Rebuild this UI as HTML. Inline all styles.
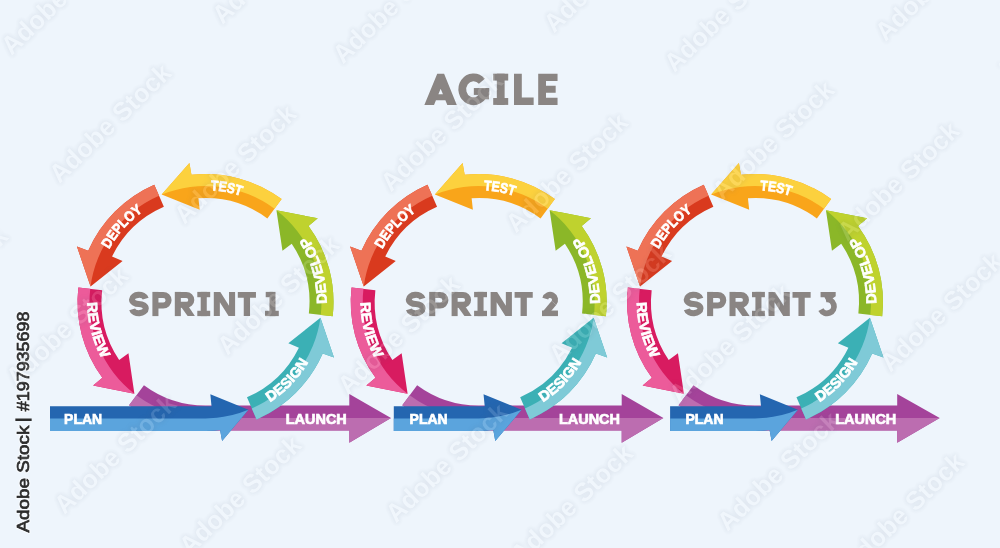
<!DOCTYPE html>
<html><head><meta charset="utf-8"><title>Agile</title>
<style>html,body{margin:0;padding:0;background:#eef5fc;}svg{display:block;}text{font-family:"Liberation Sans",sans-serif;font-weight:bold;}.side text{font-weight:normal;}.lbl{font-size:14.2px;fill:#fff;stroke:#fff;stroke-width:0.7px;letter-spacing:0px;}.big{fill:#8a8583;stroke:#8a8583;stroke-width:1.1px;stroke-linejoin:miter;}</style></head><body>
<svg width="1000" height="548" viewBox="0 0 1000 548">
<rect width="1000" height="548" fill="#eef5fc"/>
<g opacity="0.999">
<defs>
<path id="p_test" d="M168.15,196.52 A111.90,111.90 0 0 1 278.17,216.91" fill="none"/>
<path id="p_deploy" d="M98.00,279.15 A109.90,109.90 0 0 1 171.54,197.48" fill="none"/>
<path id="p_review" d="M91.75,270.24 A118.10,118.10 0 0 0 121.12,384.63" fill="none"/>
<path id="p_design" d="M238.73,416.37 A119.10,119.10 0 0 0 321.16,330.41" fill="none"/>
<path id="p_develop" d="M323.00,331.30 A121.10,121.10 0 0 0 289.62,214.89" fill="none"/>
<g id="labels">
<text class="lbl" text-anchor="middle"><textPath href="#p_test" startOffset="50%" textLength="31" lengthAdjust="spacingAndGlyphs">TEST</textPath></text>
<text class="lbl" text-anchor="middle"><textPath href="#p_deploy" startOffset="50%" textLength="51" lengthAdjust="spacingAndGlyphs">DEPLOY</textPath></text>
<text class="lbl" text-anchor="middle"><textPath href="#p_review" startOffset="50%" textLength="59" lengthAdjust="spacingAndGlyphs">REVIEW</textPath></text>
<text class="lbl" text-anchor="middle"><textPath href="#p_design" startOffset="50%" textLength="56" lengthAdjust="spacingAndGlyphs">DESIGN</textPath></text>
<text class="lbl" text-anchor="middle"><textPath href="#p_develop" startOffset="50%" textLength="71" lengthAdjust="spacingAndGlyphs">DEVELOP</textPath></text>
</g>
<g id="s1">
<path d="M281.64,199.11 A128.00,128.00 0 0 0 191.45,174.77 L189.41,162.93 L161.67,194.60 L199.69,209.68 L198.43,198.24 A104.00,104.00 0 0 1 267.36,218.40 Z" fill="#f9a51a"/>
<path d="M281.64,199.11 A128.00,128.00 0 0 0 191.45,174.77 L189.41,162.93 L161.67,194.60 A116.00,116.00 0 0 1 274.50,208.75 Z" fill="#fcd13e"/>
<path d="M154.26,184.71 A128.00,128.00 0 0 0 88.21,250.76 L76.92,246.62 L90.55,286.46 L122.58,261.02 L112.03,256.41 A104.00,104.00 0 0 1 163.86,206.70 Z" fill="#d93a1e"/>
<path d="M154.26,184.71 A128.00,128.00 0 0 0 88.21,250.76 L76.92,246.62 L90.55,286.46 A116.00,116.00 0 0 1 159.06,195.70 Z" fill="#ee7256"/>
<path d="M78.32,287.51 A128.00,128.00 0 0 0 102.34,377.78 L93.11,385.47 L134.40,393.66 L128.45,353.19 L119.18,360.01 A104.00,104.00 0 0 1 102.17,290.23 Z" fill="#d81b60"/>
<path d="M78.32,287.51 A128.00,128.00 0 0 0 102.34,377.78 L93.11,385.47 L134.40,393.66 A116.00,116.00 0 0 1 90.25,288.87 Z" fill="#ec5b9a"/>
<path d="M129.07,405.30 A128.50,128.50 0 0 0 205.50,430.50 L349.30,430.50 L349.30,442.80 L391.00,418.00 L349.30,394.00 L349.30,405.50 L205.50,405.50 A103.50,103.50 0 0 1 143.94,385.20 Z" fill="#a4439a"/>
<path d="M129.07,405.30 A128.50,128.50 0 0 0 205.50,430.50 L349.30,430.50 L349.30,442.80 L391.00,418.00 L205.50,418.00 A116.00,116.00 0 0 1 136.50,395.25 Z" fill="#bc6db0"/>
<path d="M50.00,406.20 L205.50,406.20 A104.50,104.50 0 0 0 211.52,406.33 L210.34,394.37 L248.39,409.78 L222.08,441.02 L220.08,429.97 A128.80,128.80 0 0 1 205.50,431.00 L50.00,431.00 Z" fill="#2466b0"/>
<path d="M50.00,418.50 L205.50,418.50 A116.50,116.50 0 0 0 248.39,409.78 L222.08,441.02 L220.08,429.97 A128.80,128.80 0 0 1 205.50,431.00 L50.00,431.00 Z" fill="#5ba4dd"/>
<path d="M256.54,419.38 A128.00,128.00 0 0 0 322.70,353.45 L333.99,357.60 L320.43,317.74 L288.35,343.13 L298.89,347.75 A104.00,104.00 0 0 1 246.97,397.37 Z" fill="#3bb0b5"/>
<path d="M256.54,419.38 A128.00,128.00 0 0 0 322.70,353.45 L333.99,357.60 L320.43,317.74 A116.00,116.00 0 0 1 251.75,408.38 Z" fill="#7fcad7"/>
<path d="M332.70,316.27 A128.00,128.00 0 0 0 308.53,226.04 L317.75,218.33 L276.44,210.22 L282.46,250.68 L291.72,243.84 A104.00,104.00 0 0 1 308.85,313.59 Z" fill="#8bb728"/>
<path d="M332.70,316.27 A128.00,128.00 0 0 0 308.53,226.04 L317.75,218.33 L276.44,210.22 A116.00,116.00 0 0 1 320.78,314.93 Z" fill="#bfd22e"/>
</g>
<g id="s2">
<path d="M281.64,199.11 A128.00,128.00 0 0 0 191.45,174.77 L189.41,162.93 L161.67,194.60 L199.69,209.68 L198.43,198.24 A104.00,104.00 0 0 1 267.36,218.40 Z" fill="#f9a51a"/>
<path d="M281.64,199.11 A128.00,128.00 0 0 0 191.45,174.77 L189.41,162.93 L161.67,194.60 A116.00,116.00 0 0 1 274.50,208.75 Z" fill="#fcd13e"/>
<path d="M154.26,184.71 A128.00,128.00 0 0 0 88.21,250.76 L76.92,246.62 L90.55,286.46 L122.58,261.02 L112.03,256.41 A104.00,104.00 0 0 1 163.86,206.70 Z" fill="#d93a1e"/>
<path d="M154.26,184.71 A128.00,128.00 0 0 0 88.21,250.76 L76.92,246.62 L90.55,286.46 A116.00,116.00 0 0 1 159.06,195.70 Z" fill="#ee7256"/>
<path d="M78.32,287.51 A128.00,128.00 0 0 0 102.34,377.78 L93.11,385.47 L134.40,393.66 L128.45,353.19 L119.18,360.01 A104.00,104.00 0 0 1 102.17,290.23 Z" fill="#d81b60"/>
<path d="M78.32,287.51 A128.00,128.00 0 0 0 102.34,377.78 L93.11,385.47 L134.40,393.66 A116.00,116.00 0 0 1 90.25,288.87 Z" fill="#ec5b9a"/>
<path d="M129.07,405.30 A128.50,128.50 0 0 0 205.50,430.50 L348.50,430.50 L348.50,442.80 L390.20,418.00 L348.50,394.00 L348.50,405.50 L205.50,405.50 A103.50,103.50 0 0 1 143.94,385.20 Z" fill="#a4439a"/>
<path d="M129.07,405.30 A128.50,128.50 0 0 0 205.50,430.50 L348.50,430.50 L348.50,442.80 L390.20,418.00 L205.50,418.00 A116.00,116.00 0 0 1 136.50,395.25 Z" fill="#bc6db0"/>
<path d="M120.60,406.20 L205.50,406.20 A104.50,104.50 0 0 0 211.52,406.33 L210.34,394.37 L248.39,409.78 L222.08,441.02 L220.08,429.97 A128.80,128.80 0 0 1 205.50,431.00 L120.60,431.00 Z" fill="#2466b0"/>
<path d="M120.60,418.50 L205.50,418.50 A116.50,116.50 0 0 0 248.39,409.78 L222.08,441.02 L220.08,429.97 A128.80,128.80 0 0 1 205.50,431.00 L120.60,431.00 Z" fill="#5ba4dd"/>
<path d="M256.54,419.38 A128.00,128.00 0 0 0 322.70,353.45 L333.99,357.60 L320.43,317.74 L288.35,343.13 L298.89,347.75 A104.00,104.00 0 0 1 246.97,397.37 Z" fill="#3bb0b5"/>
<path d="M256.54,419.38 A128.00,128.00 0 0 0 322.70,353.45 L333.99,357.60 L320.43,317.74 A116.00,116.00 0 0 1 251.75,408.38 Z" fill="#7fcad7"/>
<path d="M332.70,316.27 A128.00,128.00 0 0 0 308.53,226.04 L317.75,218.33 L276.44,210.22 L282.46,250.68 L291.72,243.84 A104.00,104.00 0 0 1 308.85,313.59 Z" fill="#8bb728"/>
<path d="M332.70,316.27 A128.00,128.00 0 0 0 308.53,226.04 L317.75,218.33 L276.44,210.22 A116.00,116.00 0 0 1 320.78,314.93 Z" fill="#bfd22e"/>
</g>
<g id="s3">
<path d="M281.64,199.11 A128.00,128.00 0 0 0 191.45,174.77 L189.41,162.93 L161.67,194.60 L199.69,209.68 L198.43,198.24 A104.00,104.00 0 0 1 267.36,218.40 Z" fill="#f9a51a"/>
<path d="M281.64,199.11 A128.00,128.00 0 0 0 191.45,174.77 L189.41,162.93 L161.67,194.60 A116.00,116.00 0 0 1 274.50,208.75 Z" fill="#fcd13e"/>
<path d="M154.26,184.71 A128.00,128.00 0 0 0 88.21,250.76 L76.92,246.62 L90.55,286.46 L122.58,261.02 L112.03,256.41 A104.00,104.00 0 0 1 163.86,206.70 Z" fill="#d93a1e"/>
<path d="M154.26,184.71 A128.00,128.00 0 0 0 88.21,250.76 L76.92,246.62 L90.55,286.46 A116.00,116.00 0 0 1 159.06,195.70 Z" fill="#ee7256"/>
<path d="M78.32,287.51 A128.00,128.00 0 0 0 102.34,377.78 L93.11,385.47 L134.40,393.66 L128.45,353.19 L119.18,360.01 A104.00,104.00 0 0 1 102.17,290.23 Z" fill="#d81b60"/>
<path d="M78.32,287.51 A128.00,128.00 0 0 0 102.34,377.78 L93.11,385.47 L134.40,393.66 A116.00,116.00 0 0 1 90.25,288.87 Z" fill="#ec5b9a"/>
<path d="M129.07,405.30 A128.50,128.50 0 0 0 205.50,430.50 L347.70,430.50 L347.70,442.80 L390.20,418.00 L347.70,394.00 L347.70,405.50 L205.50,405.50 A103.50,103.50 0 0 1 143.94,385.20 Z" fill="#a4439a"/>
<path d="M129.07,405.30 A128.50,128.50 0 0 0 205.50,430.50 L347.70,430.50 L347.70,442.80 L390.20,418.00 L205.50,418.00 A116.00,116.00 0 0 1 136.50,395.25 Z" fill="#bc6db0"/>
<path d="M120.60,406.20 L205.50,406.20 A104.50,104.50 0 0 0 211.52,406.33 L210.34,394.37 L248.39,409.78 L222.08,441.02 L220.08,429.97 A128.80,128.80 0 0 1 205.50,431.00 L120.60,431.00 Z" fill="#2466b0"/>
<path d="M120.60,418.50 L205.50,418.50 A116.50,116.50 0 0 0 248.39,409.78 L222.08,441.02 L220.08,429.97 A128.80,128.80 0 0 1 205.50,431.00 L120.60,431.00 Z" fill="#5ba4dd"/>
<path d="M256.54,419.38 A128.00,128.00 0 0 0 322.70,353.45 L333.99,357.60 L320.43,317.74 L288.35,343.13 L298.89,347.75 A104.00,104.00 0 0 1 246.97,397.37 Z" fill="#3bb0b5"/>
<path d="M256.54,419.38 A128.00,128.00 0 0 0 322.70,353.45 L333.99,357.60 L320.43,317.74 A116.00,116.00 0 0 1 251.75,408.38 Z" fill="#7fcad7"/>
<path d="M332.70,316.27 A128.00,128.00 0 0 0 308.53,226.04 L317.75,218.33 L276.44,210.22 L282.46,250.68 L291.72,243.84 A104.00,104.00 0 0 1 308.85,313.59 Z" fill="#8bb728"/>
<path d="M332.70,316.27 A128.00,128.00 0 0 0 308.53,226.04 L317.75,218.33 L276.44,210.22 A116.00,116.00 0 0 1 320.78,314.93 Z" fill="#bfd22e"/>
</g>
</defs>
<use href="#s1"/>
<use href="#s2" x="273.2"/>
<use href="#s3" x="549.5"/>
<use href="#labels" x="0.0"/>
<use href="#labels" x="273.2"/>
<use href="#labels" x="549.5"/>
<text class="lbl" style="font-size:14.6px" x="64.1" y="424.0" textLength="38" lengthAdjust="spacingAndGlyphs">PLAN</text>
<text class="lbl" style="font-size:14.6px" x="285.8" y="423.5" textLength="61" lengthAdjust="spacingAndGlyphs">LAUNCH</text>
<text class="lbl" style="font-size:14.6px" x="409.6" y="424.0" textLength="38" lengthAdjust="spacingAndGlyphs">PLAN</text>
<text class="lbl" style="font-size:14.6px" x="559.0" y="423.5" textLength="61" lengthAdjust="spacingAndGlyphs">LAUNCH</text>
<text class="lbl" style="font-size:14.6px" x="685.5" y="424.0" textLength="38" lengthAdjust="spacingAndGlyphs">PLAN</text>
<text class="lbl" style="font-size:14.6px" x="835.3" y="423.5" textLength="61" lengthAdjust="spacingAndGlyphs">LAUNCH</text>
<g fill="#8a8583" stroke="#8a8583" stroke-width="0">
<g transform="translate(129.00,291.90) scale(0.2420)"><path d="M68.87,27.82 A28.40,18.90 0 0 0 12.50,31.10 A28.40,18.90 0 0 0 40.90,50.00 A28.40,18.90 0 0 1 69.30,68.90 A28.40,18.90 0 0 1 12.93,72.18" fill="none" stroke-width="25"/></g>
<g transform="translate(152.40,291.90) scale(0.2420)"><rect x="0" y="0" width="25" height="100"/><path d="M12,12.5 H44.80 A22.00,22.00 0 0 1 44.80,56.50 H12" fill="none" stroke-width="25"/></g>
<g transform="translate(174.80,291.90) scale(0.2420)"><rect x="0" y="0" width="25" height="100"/><path d="M12,12.5 H47.50 A20.50,20.50 0 0 1 47.50,53.50 H12" fill="none" stroke-width="25"/><path d="M24,59.5 H56 L83,100 H53 Z"/></g>
<g transform="translate(197.30,291.90) scale(0.2420)"><rect x="14.1" y="0" width="25" height="100"/><rect x="0" y="0" width="53.3" height="22"/><rect x="0" y="78" width="53.3" height="22"/></g>
<g transform="translate(213.80,291.90) scale(0.2420)"><path d="M0,0 H27 L63,57 V0 H88 V100 H61 L25,43 V100 H0Z"/></g>
<g transform="translate(237.80,291.90) scale(0.2420)"><path d="M0,0H75 V24 H50.6 V100 H24.6 V24 H0Z"/></g>
<g transform="translate(265.00,291.90) scale(0.2420)"><rect x="18.4" y="0" width="25" height="100"/><rect x="3" y="0" width="28.9" height="22"/><rect x="0" y="78" width="57" height="22"/></g>
<g transform="translate(405.80,291.90) scale(0.2420)"><path d="M68.87,27.82 A28.40,18.90 0 0 0 12.50,31.10 A28.40,18.90 0 0 0 40.90,50.00 A28.40,18.90 0 0 1 69.30,68.90 A28.40,18.90 0 0 1 12.93,72.18" fill="none" stroke-width="25"/></g>
<g transform="translate(429.20,291.90) scale(0.2420)"><rect x="0" y="0" width="25" height="100"/><path d="M12,12.5 H44.80 A22.00,22.00 0 0 1 44.80,56.50 H12" fill="none" stroke-width="25"/></g>
<g transform="translate(451.60,291.90) scale(0.2420)"><rect x="0" y="0" width="25" height="100"/><path d="M12,12.5 H47.50 A20.50,20.50 0 0 1 47.50,53.50 H12" fill="none" stroke-width="25"/><path d="M24,59.5 H56 L83,100 H53 Z"/></g>
<g transform="translate(474.10,291.90) scale(0.2420)"><rect x="14.1" y="0" width="25" height="100"/><rect x="0" y="0" width="53.3" height="22"/><rect x="0" y="78" width="53.3" height="22"/></g>
<g transform="translate(490.60,291.90) scale(0.2420)"><path d="M0,0 H27 L63,57 V0 H88 V100 H61 L25,43 V100 H0Z"/></g>
<g transform="translate(514.60,291.90) scale(0.2420)"><path d="M0,0H75 V24 H50.6 V100 H24.6 V24 H0Z"/></g>
<g transform="translate(542.00,291.90) scale(0.2420)"><path d="M13.70,27.66 A20.45,20.45 0 1 1 49.12,46.10" fill="none" stroke-width="25"/><path d="M39.54,38.06 L58.69,54.13 L20.20,100 L0,100 L0,85.18 Z"/><rect x="0" y="77" width="66" height="23"/></g>
<g transform="translate(683.70,291.90) scale(0.2420)"><path d="M68.87,27.82 A28.40,18.90 0 0 0 12.50,31.10 A28.40,18.90 0 0 0 40.90,50.00 A28.40,18.90 0 0 1 69.30,68.90 A28.40,18.90 0 0 1 12.93,72.18" fill="none" stroke-width="25"/></g>
<g transform="translate(707.10,291.90) scale(0.2420)"><rect x="0" y="0" width="25" height="100"/><path d="M12,12.5 H44.80 A22.00,22.00 0 0 1 44.80,56.50 H12" fill="none" stroke-width="25"/></g>
<g transform="translate(729.50,291.90) scale(0.2420)"><rect x="0" y="0" width="25" height="100"/><path d="M12,12.5 H47.50 A20.50,20.50 0 0 1 47.50,53.50 H12" fill="none" stroke-width="25"/><path d="M24,59.5 H56 L83,100 H53 Z"/></g>
<g transform="translate(752.00,291.90) scale(0.2420)"><rect x="14.1" y="0" width="25" height="100"/><rect x="0" y="0" width="53.3" height="22"/><rect x="0" y="78" width="53.3" height="22"/></g>
<g transform="translate(768.50,291.90) scale(0.2420)"><path d="M0,0 H27 L63,57 V0 H88 V100 H61 L25,43 V100 H0Z"/></g>
<g transform="translate(792.50,291.90) scale(0.2420)"><path d="M0,0H75 V24 H50.6 V100 H24.6 V24 H0Z"/></g>
<g transform="translate(819.60,291.90) scale(0.2420)"><path d="M4.0,0 H66.5 V18.0 L32.6,41.3 L19.0,21.5 L18.3,22 H4.0 Z"/><path d="M25.76,31.44 A28.75,28.75 0 1 1 5.37,73.25" fill="none" stroke-width="24"/></g>
<g transform="translate(424.35,73.70) scale(0.3120)"><path fill-rule="evenodd" d="M0,100 L41.3,0 H63.3 L104,100 H73.6 L67.4,85.0 H37.2 L31.0,100 Z M45.0,66.0 L52.3,48.4 L59.6,66.0 Z"/></g>
<g transform="translate(458.40,73.70) scale(0.3120)"><path d="M75.25,24.44 A36.00,38.20 0 1 0 83.71,57.94" fill="none" stroke-width="25"/><rect x="49.5" y="46" width="49.5" height="22"/><rect x="73.0" y="46" width="25" height="36"/></g>
<g transform="translate(493.20,73.70) scale(0.3120)"><rect x="11.6" y="0" width="25" height="100"/><rect x="0" y="0" width="48.1" height="22"/><rect x="0" y="78" width="48.1" height="22"/></g>
<g transform="translate(514.00,73.70) scale(0.3120)"><path d="M0,0H25 V76 H63 V100 H0Z"/></g>
<g transform="translate(538.20,73.70) scale(0.3120)"><path d="M0,0H62 V23 H25 V39 H56 V61 H25 V77 H62 V100 H0Z"/></g>
</g>
<g transform="translate(28.8,532.6) rotate(-90)" style="font-size:17.4px;font-weight:normal;fill:#fff;stroke:#fff;stroke-width:3px;stroke-linejoin:round;opacity:0.55" class="side"><text x="0" y="0" textLength="107" lengthAdjust="spacingAndGlyphs">Adobe Stock</text><text x="110.6" y="-0.5" style="stroke-width:1.3px">|</text><text x="121.4" y="0" textLength="99.6" lengthAdjust="spacingAndGlyphs">#197935698</text></g>
<g transform="translate(28.8,532.6) rotate(-90)" style="font-size:17.4px;font-weight:normal;fill:#2c2c2c;stroke:#2c2c2c;stroke-width:0.7px" class="side"><text x="0" y="0" textLength="107" lengthAdjust="spacingAndGlyphs">Adobe Stock</text><text x="110.6" y="-0.5" style="stroke-width:1.3px">|</text><text x="121.4" y="0" textLength="99.6" lengthAdjust="spacingAndGlyphs">#197935698</text></g>
<defs><filter id="wm" x="0" y="0" width="1000" height="548" filterUnits="userSpaceOnUse" color-interpolation-filters="sRGB"><feMorphology in="SourceAlpha" operator="dilate" radius="1" result="d"/><feGaussianBlur in="d" stdDeviation="2.2" result="b"/><feComposite in="b" in2="SourceAlpha" operator="out" result="halo"/><feFlood flood-color="#445068" flood-opacity="0.08"/><feComposite in2="halo" operator="in" result="hcol"/><feFlood flood-color="#ffffff" flood-opacity="0.14"/><feComposite in2="SourceAlpha" operator="in" result="wcol"/><feMerge><feMergeNode in="hcol"/><feMergeNode in="wcol"/></feMerge></filter></defs>
<g style="font-size:26px;letter-spacing:0.2px" text-anchor="middle" filter="url(#wm)" fill="#000">
<text transform="translate(110.0,123.0) rotate(-44)" x="0" y="9" textLength="158" lengthAdjust="spacingAndGlyphs">Adobe Stock</text>
<text transform="translate(115.0,454.0) rotate(-44)" x="0" y="9" textLength="158" lengthAdjust="spacingAndGlyphs">Adobe Stock</text>
<text transform="translate(441.5,131.5) rotate(-44)" x="0" y="9" textLength="158" lengthAdjust="spacingAndGlyphs">Adobe Stock</text>
<text transform="translate(446.5,462.5) rotate(-44)" x="0" y="9" textLength="158" lengthAdjust="spacingAndGlyphs">Adobe Stock</text>
<text transform="translate(773.0,140.0) rotate(-44)" x="0" y="9" textLength="158" lengthAdjust="spacingAndGlyphs">Adobe Stock</text>
<text transform="translate(778.0,471.0) rotate(-44)" x="0" y="9" textLength="158" lengthAdjust="spacingAndGlyphs">Adobe Stock</text>
<text transform="translate(235.0,164.0) rotate(-44)" x="0" y="9" textLength="158" lengthAdjust="spacingAndGlyphs">Adobe Stock</text>
<text transform="translate(240.0,495.0) rotate(-44)" x="0" y="9" textLength="158" lengthAdjust="spacingAndGlyphs">Adobe Stock</text>
<text transform="translate(566.5,172.5) rotate(-44)" x="0" y="9" textLength="158" lengthAdjust="spacingAndGlyphs">Adobe Stock</text>
<text transform="translate(571.5,503.5) rotate(-44)" x="0" y="9" textLength="158" lengthAdjust="spacingAndGlyphs">Adobe Stock</text>
<text transform="translate(898.0,181.0) rotate(-44)" x="0" y="9" textLength="158" lengthAdjust="spacingAndGlyphs">Adobe Stock</text>
<text transform="translate(903.0,512.0) rotate(-44)" x="0" y="9" textLength="158" lengthAdjust="spacingAndGlyphs">Adobe Stock</text>
<text transform="translate(-58.5,-44.5) rotate(-44)" x="0" y="9" textLength="158" lengthAdjust="spacingAndGlyphs">Adobe Stock</text>
<text transform="translate(-53.5,286.5) rotate(-44)" x="0" y="9" textLength="158" lengthAdjust="spacingAndGlyphs">Adobe Stock</text>
<text transform="translate(-48.5,617.5) rotate(-44)" x="0" y="9" textLength="158" lengthAdjust="spacingAndGlyphs">Adobe Stock</text>
<text transform="translate(273.0,-36.0) rotate(-44)" x="0" y="9" textLength="158" lengthAdjust="spacingAndGlyphs">Adobe Stock</text>
<text transform="translate(278.0,295.0) rotate(-44)" x="0" y="9" textLength="158" lengthAdjust="spacingAndGlyphs">Adobe Stock</text>
<text transform="translate(283.0,626.0) rotate(-44)" x="0" y="9" textLength="158" lengthAdjust="spacingAndGlyphs">Adobe Stock</text>
<text transform="translate(604.5,-27.5) rotate(-44)" x="0" y="9" textLength="158" lengthAdjust="spacingAndGlyphs">Adobe Stock</text>
<text transform="translate(609.5,303.5) rotate(-44)" x="0" y="9" textLength="158" lengthAdjust="spacingAndGlyphs">Adobe Stock</text>
<text transform="translate(614.5,634.5) rotate(-44)" x="0" y="9" textLength="158" lengthAdjust="spacingAndGlyphs">Adobe Stock</text>
<text transform="translate(936.0,-19.0) rotate(-44)" x="0" y="9" textLength="158" lengthAdjust="spacingAndGlyphs">Adobe Stock</text>
<text transform="translate(941.0,312.0) rotate(-44)" x="0" y="9" textLength="158" lengthAdjust="spacingAndGlyphs">Adobe Stock</text>
<text transform="translate(62.0,-5.0) rotate(-44)" x="0" y="9" textLength="158" lengthAdjust="spacingAndGlyphs">Adobe Stock</text>
<text transform="translate(67.0,326.0) rotate(-44)" x="0" y="9" textLength="158" lengthAdjust="spacingAndGlyphs">Adobe Stock</text>
<text transform="translate(393.5,3.5) rotate(-44)" x="0" y="9" textLength="158" lengthAdjust="spacingAndGlyphs">Adobe Stock</text>
<text transform="translate(398.5,334.5) rotate(-44)" x="0" y="9" textLength="158" lengthAdjust="spacingAndGlyphs">Adobe Stock</text>
<text transform="translate(725.0,12.0) rotate(-44)" x="0" y="9" textLength="158" lengthAdjust="spacingAndGlyphs">Adobe Stock</text>
<text transform="translate(730.0,343.0) rotate(-44)" x="0" y="9" textLength="158" lengthAdjust="spacingAndGlyphs">Adobe Stock</text>
<text transform="translate(1056.5,20.5) rotate(-44)" x="0" y="9" textLength="158" lengthAdjust="spacingAndGlyphs">Adobe Stock</text>
<text transform="translate(1061.5,351.5) rotate(-44)" x="0" y="9" textLength="158" lengthAdjust="spacingAndGlyphs">Adobe Stock</text>
</g>
</g>
</svg></body></html>
